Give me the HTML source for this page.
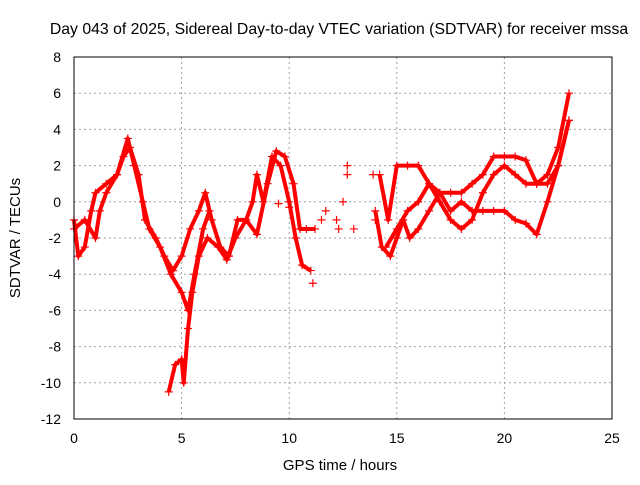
<!DOCTYPE html>
<html><head><meta charset="utf-8"><style>
body{margin:0;background:#fff;font-family:"Liberation Sans",sans-serif}
svg text{font-family:"Liberation Sans",sans-serif;font-size:14px;fill:#000}
</style></head><body>
<svg id="chart" width="640" height="480" xmlns="http://www.w3.org/2000/svg">
<rect width="640" height="480" fill="#fff"/>
<text x="339" y="34" text-anchor="middle" style="font-size:15.8px">Day 043 of 2025, Sidereal Day-to-day VTEC variation (SDTVAR) for receiver mssa</text>
<text transform="translate(20,238) rotate(-90)" text-anchor="middle" style="font-size:15px">SDTVAR / TECUs</text>
<text x="340" y="470" text-anchor="middle" style="font-size:15px">GPS time / hours</text>
<g id="grid"></g><g id="ticks"></g><g id="marks"></g>
<rect x="74" y="57" width="538" height="362" fill="none" stroke="#000" stroke-width="1"/>
</svg>
<script>
const xTicks=[0,5,10,15,20,25];
const yTicks=[-12,-10,-8,-6,-4,-2,0,2,4,6,8];
const trackA=[[0,-1],[0.2,-3],[0.5,-2.5],[0.8,-0.5],[1,0.5],[1.5,1],[2,1.5],[2.5,3.5],[2.8,2],[3.2,0],[3.5,-1.5],[4,-2.5],[4.5,-4],[5,-5],[5.3,-6],[5.6,-4],[6,-1.5],[6.3,-0.5]];
const trackB=[[0,-1.5],[0.5,-1],[1,-2],[1.2,-0.5],[1.5,0.5],[2,1.5],[2.3,2.5],[2.6,3],[3,1.5],[3.3,-1],[3.8,-2],[4.2,-3],[4.6,-3.8],[5,-3],[5.4,-1.5],[5.8,-0.5],[6.1,0.5],[6.4,-1],[6.8,-2.5],[7.2,-3],[7.6,-1],[8,-1],[8.3,0],[8.5,1.5],[8.8,0],[9.2,2.5],[9.6,2],[10,0],[10.3,-2],[10.6,-3.5],[11,-3.8]];
const trackC=[[4.4,-10.5],[4.7,-9],[5,-8.7],[5.1,-10],[5.3,-7],[5.5,-5],[5.8,-3],[6.2,-2],[6.7,-2.5],[7.1,-3.2],[7.5,-2],[8,-1],[8.5,-1.8],[9,1],[9.4,2.8],[9.8,2.5],[10.2,1],[10.5,-1.5],[10.8,-1.5],[11.2,-1.5]];
const trackD=[[14,-0.5],[14.3,-2.5],[14.7,-3],[15,-2],[15.3,-1],[15.6,-2],[16,-1.5],[16.5,-0.5],[17,0.5],[17.5,-0.5],[18,0],[18.5,-0.5],[19,-0.5],[19.5,-0.5],[20,-0.5],[20.5,-1],[21,-1.2],[21.5,-1.8],[22,0],[22.5,2],[23,4.5]];
const trackE=[[14.2,1.5],[14.6,-1],[15,2],[15.5,2],[16,2],[16.5,1],[17,0],[17.5,-1],[18,-1.5],[18.5,-1],[19,0.5],[19.5,1.5],[20,2],[20.5,1.5],[21,1],[21.5,1],[22,1.5],[22.5,3],[23,6]];
const trackF=[[14.5,-2.5],[15,-1.5],[15.5,-0.5],[16,0],[16.5,1],[17,0.5],[17.5,0.5],[18,0.5],[18.5,1],[19,1.5],[19.5,2.5],[20,2.5],[20.5,2.5],[21,2.3],[21.5,1],[22,1],[22.5,2],[23,4.5]];
const isolated=[[11.5,-1],[11.7,-0.5],[12.3,-1.5],[12.5,0],[12.7,2],[12.7,1.5],[12.2,-1],[13.9,1.5],[10,-0.3],[9.5,-0.1],[11.1,-4.5],[13,-1.5],[14,-1]];
const NS="http://www.w3.org/2000/svg";
const X=v=>74+v*538/25, Y=v=>419-(v+12)*362/20;
function mk(t,a,p){const e=document.createElementNS(NS,t);for(const k in a)e.setAttribute(k,a[k]);p.appendChild(e);return e;}
const grid=document.getElementById('grid'),ticks=document.getElementById('ticks'),marks=document.getElementById('marks');
xTicks.forEach(v=>{
 if(v>0&&v<25){const g=mk('line',{x1:X(v),x2:X(v),y1:57,y2:419,stroke:'#a0a0a0','stroke-dasharray':'2,3'},grid);
 
 }
 const t=mk('text',{x:X(v),y:443,'text-anchor':'middle'},ticks);t.textContent=v;
 
 
});
yTicks.forEach(v=>{
 if(v>-12&&v<8){const g=mk('line',{x1:74,x2:612,y1:Y(v),y2:Y(v),stroke:'#a0a0a0','stroke-dasharray':'2,3'},grid);
 
 }
 const t=mk('text',{x:61,y:Y(v)+5,'text-anchor':'end'},ticks);t.textContent=v;
 
 
});
function plus(p,name){
 const cx=X(p[0]),cy=Y(p[1]);
 const e=mk('path',{d:`M${cx-4},${cy}H${cx+4}M${cx},${cy-4}V${cy+4}`,stroke:'#f00','stroke-width':1.2},marks);
 
 
}
[trackA,trackB,trackC,trackD,trackE,trackF].forEach((tr,i)=>{
 const l=mk('polyline',{points:tr.map(p=>X(p[0])+','+Y(p[1])).join(' '),fill:'none',stroke:'#f00','stroke-width':4,'stroke-linejoin':'round'},marks);
 
 
 tr.forEach(p=>plus(p,'sdtvar-point'));
});
isolated.forEach(p=>plus(p,'sdtvar-point'));
</script>
</body></html>
